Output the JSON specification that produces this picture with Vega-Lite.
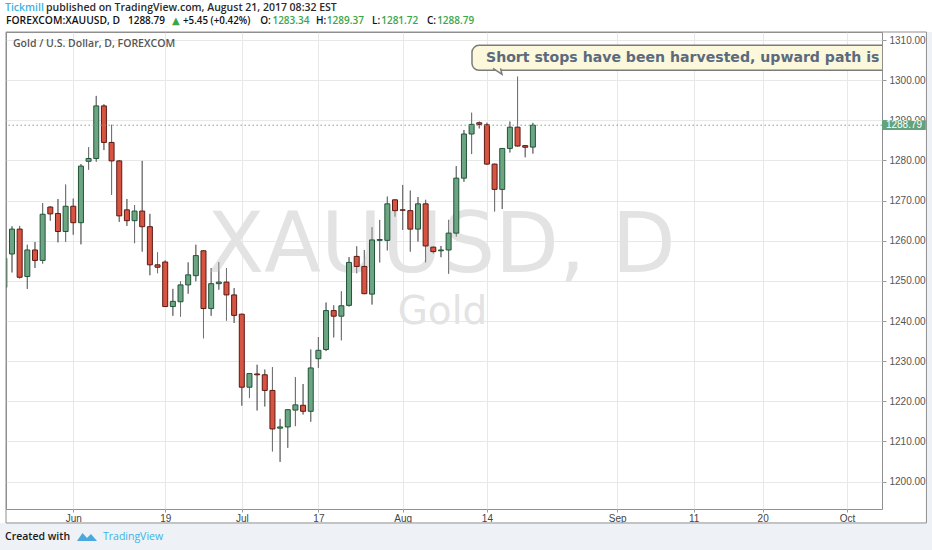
{
  "$schema": "https://vega.github.io/schema/vega-lite/v6.json",
  "width": 876,
  "height": 477,
  "autosize": {"type": "none"},
  "padding": {"left": 6, "top": 32, "right": 50, "bottom": 41},
  "background": "#ffffff",
  "config": {"view": {"stroke": "#8f8f8f", "strokeWidth": 1}, "font": "Liberation Sans"},
  "datasets": {
    "one": [{}],
    "candles": [
      {"i": -1, "o": 1248.4, "h": 1257.0, "l": 1246.5, "c": 1255.6},
      {"i": 0, "o": 1256.7, "h": 1263.6, "l": 1252.1, "c": 1262.9},
      {"i": 1, "o": 1262.9, "h": 1263.7, "l": 1250.6, "c": 1250.9},
      {"i": 2, "o": 1251.1, "h": 1259.0, "l": 1248.0, "c": 1257.7},
      {"i": 3, "o": 1257.7, "h": 1259.7, "l": 1253.2, "c": 1255.1},
      {"i": 4, "o": 1255.1, "h": 1269.4, "l": 1254.3, "c": 1266.6},
      {"i": 5, "o": 1268.4, "h": 1268.6, "l": 1265.0, "c": 1266.7},
      {"i": 6, "o": 1266.8, "h": 1270.4, "l": 1259.6, "c": 1262.3},
      {"i": 7, "o": 1262.3, "h": 1274.0, "l": 1259.7, "c": 1268.6},
      {"i": 8, "o": 1268.6, "h": 1270.5, "l": 1261.5, "c": 1264.5},
      {"i": 9, "o": 1264.5, "h": 1279.1, "l": 1259.1, "c": 1278.6},
      {"i": 10, "o": 1279.8, "h": 1283.3, "l": 1277.7, "c": 1280.5},
      {"i": 11, "o": 1280.5, "h": 1296.1, "l": 1279.7, "c": 1293.6},
      {"i": 12, "o": 1293.6, "h": 1294.0, "l": 1282.6, "c": 1284.5},
      {"i": 13, "o": 1284.5, "h": 1288.9, "l": 1271.4, "c": 1279.9},
      {"i": 14, "o": 1279.9, "h": 1280.1, "l": 1264.7, "c": 1266.2},
      {"i": 15, "o": 1267.7, "h": 1270.4, "l": 1263.7, "c": 1265.0},
      {"i": 16, "o": 1265.0, "h": 1268.9, "l": 1259.4, "c": 1267.4},
      {"i": 17, "o": 1267.4, "h": 1279.9, "l": 1257.3, "c": 1263.5},
      {"i": 18, "o": 1263.5, "h": 1266.7, "l": 1251.4, "c": 1254.0},
      {"i": 19, "o": 1254.0, "h": 1257.1, "l": 1251.9, "c": 1253.4},
      {"i": 20, "o": 1254.7, "h": 1255.1, "l": 1243.5, "c": 1243.6},
      {"i": 21, "o": 1243.6, "h": 1248.0, "l": 1241.3, "c": 1244.9},
      {"i": 22, "o": 1244.8, "h": 1249.9, "l": 1241.1, "c": 1249.0},
      {"i": 23, "o": 1249.0, "h": 1254.6, "l": 1246.8, "c": 1251.5},
      {"i": 24, "o": 1251.3, "h": 1259.0, "l": 1249.9, "c": 1256.3},
      {"i": 25, "o": 1257.5, "h": 1257.6, "l": 1235.7, "c": 1243.1},
      {"i": 26, "o": 1243.1, "h": 1253.2, "l": 1241.3, "c": 1249.3},
      {"i": 27, "o": 1249.3, "h": 1254.7, "l": 1247.8, "c": 1249.7},
      {"i": 28, "o": 1249.7, "h": 1253.2, "l": 1240.1, "c": 1246.5},
      {"i": 29, "o": 1246.5, "h": 1248.2, "l": 1239.5, "c": 1241.4},
      {"i": 30, "o": 1241.7, "h": 1241.8, "l": 1218.9, "c": 1223.5},
      {"i": 31, "o": 1223.5, "h": 1226.9, "l": 1220.8, "c": 1226.9},
      {"i": 32, "o": 1226.8, "h": 1229.1, "l": 1217.7, "c": 1226.6},
      {"i": 33, "o": 1226.6, "h": 1227.9, "l": 1218.7, "c": 1222.7},
      {"i": 34, "o": 1222.7, "h": 1228.5, "l": 1207.5, "c": 1213.1},
      {"i": 35, "o": 1213.3, "h": 1215.6, "l": 1204.9, "c": 1213.6},
      {"i": 36, "o": 1213.6, "h": 1217.9, "l": 1208.4, "c": 1217.9},
      {"i": 37, "o": 1217.8, "h": 1226.0, "l": 1213.8, "c": 1219.1},
      {"i": 38, "o": 1219.0, "h": 1224.3, "l": 1216.7, "c": 1217.5},
      {"i": 39, "o": 1217.5, "h": 1232.9, "l": 1214.9, "c": 1228.3},
      {"i": 40, "o": 1230.6, "h": 1236.0, "l": 1228.3, "c": 1232.7},
      {"i": 41, "o": 1232.9, "h": 1244.6, "l": 1232.5, "c": 1242.6},
      {"i": 42, "o": 1242.6, "h": 1243.9, "l": 1235.9, "c": 1241.2},
      {"i": 43, "o": 1241.2, "h": 1247.4, "l": 1235.2, "c": 1243.8},
      {"i": 44, "o": 1243.9, "h": 1255.9, "l": 1243.6, "c": 1254.6},
      {"i": 45, "o": 1256.1, "h": 1258.6, "l": 1251.9, "c": 1253.6},
      {"i": 46, "o": 1253.6, "h": 1257.7, "l": 1246.7, "c": 1246.8},
      {"i": 47, "o": 1246.7, "h": 1263.4, "l": 1244.1, "c": 1260.2},
      {"i": 48, "o": 1260.1, "h": 1265.2, "l": 1254.6, "c": 1260.3},
      {"i": 49, "o": 1260.1, "h": 1271.0, "l": 1257.6, "c": 1269.2},
      {"i": 50, "o": 1270.2, "h": 1270.3, "l": 1266.0, "c": 1267.5},
      {"i": 51, "o": 1267.7, "h": 1273.9, "l": 1262.7, "c": 1267.6},
      {"i": 52, "o": 1267.5, "h": 1272.5, "l": 1257.3, "c": 1262.9},
      {"i": 53, "o": 1262.9, "h": 1270.9, "l": 1259.8, "c": 1269.2},
      {"i": 54, "o": 1269.2, "h": 1270.2, "l": 1254.6, "c": 1258.7},
      {"i": 55, "o": 1258.4, "h": 1258.6, "l": 1256.8, "c": 1257.3},
      {"i": 56, "o": 1257.5, "h": 1258.7, "l": 1255.9, "c": 1257.7},
      {"i": 57, "o": 1257.7, "h": 1265.2, "l": 1251.8, "c": 1261.9},
      {"i": 58, "o": 1261.9, "h": 1278.6, "l": 1261.0, "c": 1275.6},
      {"i": 59, "o": 1275.6, "h": 1287.6, "l": 1274.7, "c": 1286.6},
      {"i": 60, "o": 1286.6, "h": 1291.9, "l": 1281.6, "c": 1289.0},
      {"i": 61, "o": 1289.4, "h": 1289.7, "l": 1288.0, "c": 1289.0},
      {"i": 62, "o": 1288.9, "h": 1289.4, "l": 1278.9, "c": 1279.1},
      {"i": 63, "o": 1279.1, "h": 1279.2, "l": 1267.3, "c": 1272.8},
      {"i": 64, "o": 1272.8, "h": 1283.1, "l": 1267.9, "c": 1283.0},
      {"i": 65, "o": 1283.0, "h": 1289.7, "l": 1282.0, "c": 1288.3},
      {"i": 66, "o": 1288.3, "h": 1300.9, "l": 1283.5, "c": 1283.6},
      {"i": 67, "o": 1283.7, "h": 1283.8, "l": 1280.8, "c": 1283.3},
      {"i": 68, "o": 1283.34, "h": 1289.37, "l": 1281.72, "c": 1288.79}
    ]
  },
  "layer": [
    {
      "data": {"name": "candles"},
      "mark": {"type": "rule", "color": "#737375", "strokeWidth": 1, "clip": true},
      "encoding": {
        "x": {
          "field": "i", "type": "quantitative",
          "scale": {"domain": [-0.783, 113.577], "nice": false, "zero": false, "padding": 0},
          "axis": {
            "title": null, "domain": false, "grid": true, "gridColor": "#e8e8e8",
            "values": [8, 20, 30, 40, 51, 62, 79, 89, 98, 109],
            "labelExpr": "datum.value == 8 ? 'Jun' : datum.value == 20 ? '19' : datum.value == 30 ? 'Jul' : datum.value == 40 ? '17' : datum.value == 51 ? 'Aug' : datum.value == 62 ? '14' : datum.value == 79 ? 'Sep' : datum.value == 89 ? '11' : datum.value == 98 ? '20' : 'Oct'",
            "labelFont": "Liberation Sans", "labelFontSize": 10, "labelColor": "#444444",
            "tickSize": 3, "tickColor": "#999999", "labelPadding": 1, "labelOverlap": false
          }
        },
        "y": {
          "field": "l", "type": "quantitative",
          "scale": {"domain": [1193.15, 1312.02], "nice": false, "zero": false, "padding": 0},
          "axis": {
            "title": null, "orient": "right", "domain": false, "grid": true, "gridColor": "#e8e8e8",
            "values": [1200, 1210, 1220, 1230, 1240, 1250, 1260, 1270, 1280, 1290, 1300, 1310],
            "format": ".2f", "labelFont": "Liberation Sans", "labelFontSize": 10, "labelColor": "#555555",
            "tickSize": 4, "tickColor": "#999999", "labelPadding": 3, "labelOverlap": false
          }
        },
        "y2": {"field": "h"}
      }
    },
    {
      "data": {"name": "one"},
      "mark": {"type": "text", "text": "XAUUSD, D", "font": "DejaVu Sans", "fontSize": 83, "color": "#e3e3e3", "align": "center", "baseline": "alphabetic"},
      "encoding": {"x": {"datum": 56.07}, "y": {"datum": 1252.17}}
    },
    {
      "data": {"name": "one"},
      "mark": {"type": "text", "text": "Gold", "font": "DejaVu Sans", "fontSize": 39, "color": "#e3e3e3", "align": "center", "baseline": "alphabetic"},
      "encoding": {"x": {"datum": 56.2}, "y": {"datum": 1239.2}}
    },
    {
      "data": {"name": "candles"},
      "mark": {"type": "rule", "color": "#737375", "strokeWidth": 1, "clip": true},
      "encoding": {
        "x": {"field": "i", "type": "quantitative"},
        "y": {"field": "l", "type": "quantitative"},
        "y2": {"field": "h"}
      }
    },
    {
      "data": {"name": "candles"},
      "mark": {"type": "bar", "size": 5, "strokeWidth": 1, "clip": true},
      "encoding": {
        "x": {"field": "i", "type": "quantitative"},
        "y": {"field": "o", "type": "quantitative"},
        "y2": {"field": "c"},
        "fill": {"condition": {"test": "datum.c >= datum.o", "value": "#6ba583"}, "value": "#d75442"},
        "stroke": {"condition": {"test": "datum.c >= datum.o", "value": "#225437"}, "value": "#5b1a13"}
      }
    },
    {
      "data": {"name": "one"},
      "mark": {"type": "rule", "color": "#6ba583", "strokeWidth": 1, "strokeDash": [1.5, 2.5]},
      "encoding": {"y": {"datum": 1288.79}}
    },
    {
      "data": {"name": "one"},
      "mark": {"type": "rect", "fill": "#fbf8dc", "stroke": "#7b7b7b", "strokeWidth": 1.5, "cornerRadius": 7, "clip": true},
      "encoding": {"x": {"datum": 60.05}, "x2": {"datum": 130}, "y": {"datum": 1308.69}, "y2": {"datum": 1302.47}}
    },
    {
      "data": {"name": "one"},
      "mark": {"type": "point", "shape": "M -1 -0.7 L 0.8 0.5 L 0.5 -0.7", "size": 100, "filled": true, "fill": "#fbf8dc", "stroke": "#7b7b7b", "strokeWidth": 1.5, "opacity": 1},
      "encoding": {"x": {"datum": 63.45}, "y": {"datum": 1302.09}}
    },
    {
      "data": {"name": "one"},
      "mark": {"type": "text", "text": "Short stops have been harvested, upward path is", "font": "DejaVu Sans", "fontWeight": "bold", "fontSize": 14.1, "color": "#5b6a7c", "align": "left", "baseline": "middle", "clip": true},
      "encoding": {"x": {"datum": 61.88}, "y": {"datum": 1305.58}}
    },
    {
      "data": {"name": "one"},
      "mark": {"type": "text", "text": "Gold / U.S. Dollar, D, FOREXCOM", "font": "Open Sans", "fontWeight": 600, "fontSize": 10.5, "color": "#555555", "align": "left", "baseline": "middle"},
      "encoding": {"x": {"datum": 0.13}, "y": {"datum": 1308.94}}
    },
    {
      "data": {"name": "one"},
      "mark": {"type": "rect", "fill": "#eef1f6"},
      "encoding": {"x": {"datum": -1.567}, "x2": {"datum": 120.1}, "y": {"datum": 1189.67}, "y2": {"datum": 1182.94}}
    },
    {
      "data": {"name": "one"},
      "mark": {"type": "rect", "fill": "#eef1f6"},
      "encoding": {"x": {"datum": 119.38}, "x2": {"datum": 120.1}, "y": {"datum": 1312.02}, "y2": {"datum": 1189.67}}
    },
    {
      "data": {"name": "one"},
      "mark": {"type": "rect", "fill": "transparent", "stroke": "#8f8f8f", "strokeWidth": 1},
      "encoding": {"x": {"datum": -0.783}, "x2": {"datum": 119.38}, "y": {"datum": 1312.02}, "y2": {"datum": 1189.67}}
    },
    {
      "data": {"name": "one"},
      "mark": {"type": "rect", "fill": "#62a37d"},
      "encoding": {"x": {"datum": 113.577}, "x2": {"datum": 119.3}, "y": {"datum": 1290.0}, "y2": {"datum": 1287.6}}
    },
    {
      "data": {"name": "one"},
      "mark": {"type": "text", "text": "1288.79", "font": "Liberation Sans", "fontSize": 10, "color": "#ffffff", "align": "center", "baseline": "middle"},
      "encoding": {"x": {"datum": 116.45}, "y": {"datum": 1288.79}}
    },
    {
      "data": {"name": "one"},
      "mark": {"type": "text", "text": "Tickmill", "font": "Open Sans", "fontWeight": 600, "fontSize": 10.5, "color": "#3bb3e4", "align": "left", "baseline": "middle"},
      "encoding": {"x": {"datum": -0.914}, "y": {"datum": 1318.03}}
    },
    {
      "data": {"name": "one"},
      "mark": {"type": "text", "text": "published on TradingView.com, August 21, 2017 08:32 EST", "font": "Open Sans", "fontWeight": 600, "fontSize": 10.5, "color": "#2a2a2a", "align": "left", "baseline": "middle"},
      "encoding": {"x": {"datum": 4.439}, "y": {"datum": 1318.03}}
    },
    {
      "data": {"name": "one"},
      "mark": {"type": "text", "text": "FOREXCOM:XAUUSD, D", "font": "Open Sans", "fontWeight": 600, "fontSize": 10.3, "color": "#111111", "align": "left", "baseline": "middle"},
      "encoding": {"x": {"datum": -0.783}, "y": {"datum": 1314.67}}
    },
    {
      "data": {"name": "one"},
      "mark": {"type": "text", "text": "1288.79", "font": "Open Sans", "fontWeight": 600, "fontSize": 10, "color": "#111111", "align": "left", "baseline": "middle"},
      "encoding": {"x": {"datum": 15.14}, "y": {"datum": 1314.67}}
    },
    {
      "data": {"name": "one"},
      "mark": {"type": "text", "text": "▲", "font": "DejaVu Sans", "fontSize": 10, "color": "#3aa64a", "align": "left", "baseline": "middle"},
      "encoding": {"x": {"datum": 20.89}, "y": {"datum": 1314.67}}
    },
    {
      "data": {"name": "one"},
      "mark": {"type": "text", "text": "+5.45 (+0.42%)", "font": "Open Sans", "fontWeight": 600, "fontSize": 9.8, "color": "#111111", "align": "left", "baseline": "middle"},
      "encoding": {"x": {"datum": 22.32}, "y": {"datum": 1314.67}}
    },
    {
      "data": {"name": "one"},
      "mark": {"type": "text", "text": "O:", "font": "Open Sans", "fontWeight": 600, "fontSize": 10, "color": "#111111", "align": "left", "baseline": "middle"},
      "encoding": {"x": {"datum": 32.4}, "y": {"datum": 1314.67}}
    },
    {
      "data": {"name": "one"},
      "mark": {"type": "text", "text": "1283.34", "font": "Open Sans", "fontWeight": 600, "fontSize": 10, "color": "#3aa64a", "align": "left", "baseline": "middle"},
      "encoding": {"x": {"datum": 34.0}, "y": {"datum": 1314.67}}
    },
    {
      "data": {"name": "one"},
      "mark": {"type": "text", "text": "H:", "font": "Open Sans", "fontWeight": 600, "fontSize": 10, "color": "#111111", "align": "left", "baseline": "middle"},
      "encoding": {"x": {"datum": 39.7}, "y": {"datum": 1314.67}}
    },
    {
      "data": {"name": "one"},
      "mark": {"type": "text", "text": "1289.37", "font": "Open Sans", "fontWeight": 600, "fontSize": 10, "color": "#3aa64a", "align": "left", "baseline": "middle"},
      "encoding": {"x": {"datum": 41.1}, "y": {"datum": 1314.67}}
    },
    {
      "data": {"name": "one"},
      "mark": {"type": "text", "text": "L:", "font": "Open Sans", "fontWeight": 600, "fontSize": 10, "color": "#111111", "align": "left", "baseline": "middle"},
      "encoding": {"x": {"datum": 47.0}, "y": {"datum": 1314.67}}
    },
    {
      "data": {"name": "one"},
      "mark": {"type": "text", "text": "1281.72", "font": "Open Sans", "fontWeight": 600, "fontSize": 10, "color": "#3aa64a", "align": "left", "baseline": "middle"},
      "encoding": {"x": {"datum": 48.2}, "y": {"datum": 1314.67}}
    },
    {
      "data": {"name": "one"},
      "mark": {"type": "text", "text": "C:", "font": "Open Sans", "fontWeight": 600, "fontSize": 10, "color": "#111111", "align": "left", "baseline": "middle"},
      "encoding": {"x": {"datum": 54.18}, "y": {"datum": 1314.67}}
    },
    {
      "data": {"name": "one"},
      "mark": {"type": "text", "text": "1288.79", "font": "Open Sans", "fontWeight": 600, "fontSize": 10, "color": "#3aa64a", "align": "left", "baseline": "middle"},
      "encoding": {"x": {"datum": 55.5}, "y": {"datum": 1314.67}}
    },
    {
      "data": {"name": "one"},
      "mark": {"type": "text", "text": "Created with", "font": "Open Sans", "fontWeight": 600, "fontSize": 10.5, "color": "#1a1a1a", "align": "left", "baseline": "middle"},
      "encoding": {"x": {"datum": -0.914}, "y": {"datum": 1186.18}}
    },
    {
      "data": {"name": "one"},
      "mark": {"type": "point", "shape": "M -1 0.4 L -0.45 -0.4 L 0 0.1 L 0.4 -0.3 L 1 0.4 Z", "size": 400, "filled": true, "fill": "#4aa8dc", "strokeWidth": 0, "opacity": 1},
      "encoding": {"x": {"datum": 9.79}, "y": {"datum": 1186.18}}
    },
    {
      "data": {"name": "one"},
      "mark": {"type": "text", "text": "TradingView", "font": "Open Sans", "fontSize": 10.5, "color": "#3bb3e4", "align": "left", "baseline": "middle"},
      "encoding": {"x": {"datum": 11.88}, "y": {"datum": 1186.18}}
    }
  ]
}
